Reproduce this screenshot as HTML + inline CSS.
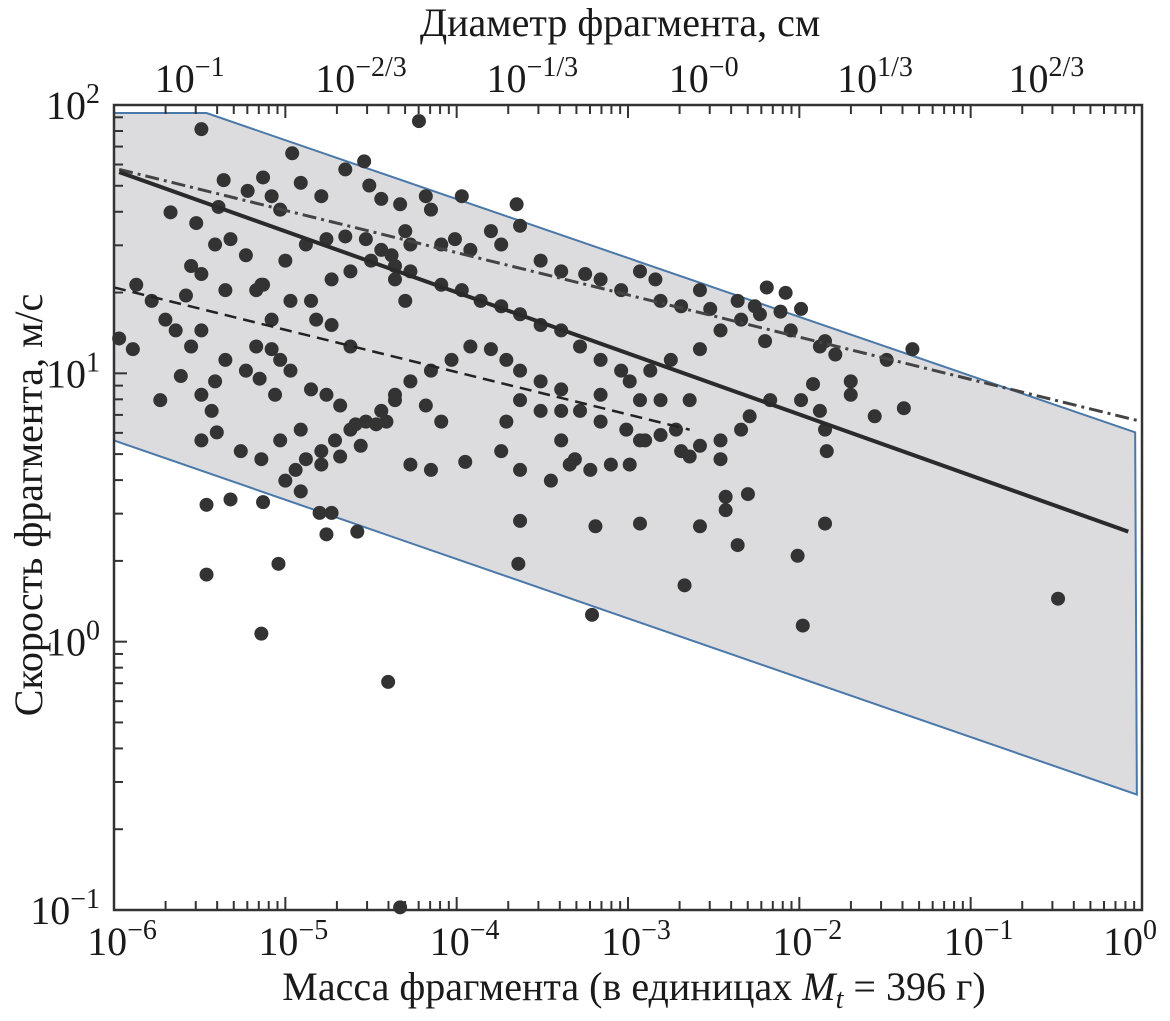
<!DOCTYPE html>
<html><head><meta charset="utf-8">
<style>
html,body{margin:0;padding:0;background:#fff;}
svg text{font-family:"Liberation Serif",serif;fill:#1a1a1a;}
</style></head>
<body>
<svg id="chart" width="1170" height="1016" viewBox="0 0 1170 1016" xmlns="http://www.w3.org/2000/svg"></svg>
<script>
// Data (log10 values), 10 per row
const massLog10 = [
-5.49,-4.22,-3.65,-3.97,-4.54,-4.96,-5.13,-5.36,-5.67,-5.52,
-5.39,-5.22,-5.08,-5.03,-4.91,-4.79,-4.65,-4.51,-4.44,-4.33,
-4.18,-4.15,-4.30,-4.09,-4.01,-3.92,-3.80,-3.74,-3.63,-3.51,
-3.39,-3.25,-3.16,-3.04,-2.93,-2.84,-2.81,-2.69,-2.58,-2.52,
-2.36,-2.26,-2.05,-2.20,-1.85,-1.79,-1.70,-1.92,-1.99,-2.17,
-2.29,-2.34,-2.46,-2.58,-2.69,-2.81,-2.93,-3.01,-3.16,-3.28,
-3.39,-3.51,-3.63,-3.71,-3.80,-3.92,-4.03,-4.15,-4.27,-4.36,
-4.44,-4.53,-4.62,-4.71,-4.79,-4.88,-4.94,-5.00,-4.91,-4.79,
-4.68,-4.56,-4.91,-5.03,-5.14,-5.26,-5.43,-5.49,-5.61,-5.55,
-5.64,-5.70,-5.78,-5.87,-5.89,-5.97,-5.73,-5.41,-5.35,-5.17,
-5.08,-4.97,-4.85,-4.73,-4.62,-4.50,-4.38,-4.27,-5.35,-5.17,
-5.14,-5.00,-4.88,-4.76,-4.65,-4.53,-4.44,-4.36,-4.27,-5.23,
-5.32,-5.41,-5.55,-5.49,-5.58,-5.13,-3.39,-3.31,-3.22,-3.10,
-2.99,-2.90,-2.72,-2.64,-2.46,-2.64,-2.81,-2.93,-3.04,-3.16,
-3.28,-3.39,-3.51,-3.63,-3.74,-3.86,-3.97,-4.09,-3.19,-2.93,
-2.58,-2.43,-2.43,-2.30,-2.36,-3.63,-3.45,-3.34,-3.63,-3.74,
-3.71,-3.63,-3.51,-3.39,-3.16,-2.99,-2.87,-2.75,-2.58,-2.46,
-2.34,-2.23,-2.11,-1.99,-1.88,-1.70,-1.88,-1.85,-1.84,-1.85,
-2.01,-1.98,-2.67,-3.64,-3.21,-2.19,-2.08,-1.34,-0.49,-1.39,
-1.56,-1.49,-5.32,-5.46,-5.13,-5.04,-5.46,-4.76,-4.58,-5.14,
-4.40,-4.33,-4.80,-4.73,-4.27,-4.15,-3.95,-4.09,-4.18,-4.36,
-4.41,-4.47,-4.59,-4.68,-4.76,-4.85,-5.06,-5.15,-5.23,-5.40,
-5.49,-4.62,-4.73,-4.82,-5.08,-5.03,-4.97,-4.36,-4.30,-5.49];
const speedLog10 = [
1.91,1.94,1.63,1.66,1.79,1.82,1.73,1.72,1.60,1.56,
1.62,1.68,1.66,1.61,1.71,1.66,1.76,1.70,1.65,1.63,
1.66,1.61,1.53,1.48,1.50,1.46,1.53,1.48,1.55,1.42,
1.38,1.37,1.35,1.31,1.38,1.35,1.27,1.25,1.31,1.24,
1.27,1.25,1.16,1.12,1.12,1.07,0.97,0.96,0.90,0.90,
0.84,0.79,0.75,0.73,0.71,0.77,0.75,0.79,0.82,0.86,
0.94,0.97,1.01,1.05,1.09,1.10,1.05,1.01,0.97,0.92,
0.86,0.82,0.79,0.75,0.71,0.68,0.64,0.60,0.56,0.66,
0.69,0.73,0.79,0.75,0.68,0.71,0.86,0.92,0.99,1.10,
1.16,1.20,1.27,1.33,1.09,1.13,0.90,0.97,1.05,1.10,
1.20,1.27,1.27,1.35,1.38,1.42,1.44,1.38,1.31,1.31,
1.33,1.42,1.48,1.50,1.51,1.50,1.46,1.40,1.48,1.44,
1.50,1.48,1.40,1.37,1.29,1.33,0.75,0.68,0.64,0.66,
0.66,0.75,0.79,0.69,0.68,0.90,0.90,0.90,1.01,1.05,
1.10,1.16,1.18,1.22,1.25,1.27,1.31,1.33,0.43,0.44,
0.43,0.49,0.54,0.55,0.36,0.45,0.60,0.66,0.64,0.71,
0.82,0.90,0.86,0.86,0.92,0.97,1.01,1.05,1.09,1.16,
1.20,1.22,1.23,1.24,1.10,0.92,0.86,0.79,0.71,0.44,
0.32,0.06,0.21,0.29,0.10,1.32,1.30,1.09,0.16,0.87,
0.84,1.05,0.53,0.51,0.52,0.29,0.25,0.40,0.41,0.03,
-0.15,-0.99,0.48,0.48,0.66,0.64,0.67,0.82,0.88,0.90,
0.82,0.81,0.81,0.88,0.92,0.94,0.92,0.98,1.01,0.78,
0.75,1.10,1.18,1.20,1.09,1.05,1.01,1.35,1.27,1.16];
// Fit lines (log10 endpoints)
const solidFitMass = [-5.97, -0.08];
const solidFitSpeed = [1.75, 0.41];
const dashedFitMass = [-6.0, -2.64];
const dashedFitSpeed = [1.32, 0.79];
const dashDotFitMass = [-5.97, 0.0];
const dashDotFitSpeed = [1.76, 0.82];
// Envelope polygon (log10)
const envelopeMass = [-6.0, -5.46, -0.04, -0.03, -6.0];
const envelopeSpeed = [1.97, 1.97, 0.78, -0.57, 0.75];
// Ticks
const xTickExp = [-6, -5, -4, -3, -2, -1, 0];
const yTickExp = [-1, 0, 1, 2];
const topTickLabels = ["-1", "-2/3", "-1/3", "-0", "1/3", "2/3"];
const topTickExp = [-1, -2/3, -1/3, 0, 1/3, 2/3];

const L = 114, R = 1142, T = 105, B = 910;
const xS = v => L + (v + 6) / 6 * (R - L);
const yS = v => B - (v + 1) / 3 * (B - T);
const dToMass = e => -2.64 + 3 * e;
const NS = "http://www.w3.org/2000/svg";
const svg = document.getElementById('chart');
function mk(tag, attrs, parent) {
  const el = document.createElementNS(NS, tag);
  for (const k in attrs) el.setAttribute(k, attrs[k]);
  (parent || svg).appendChild(el);
  return el;
}

const env = mk('polygon', {points: envelopeMass.map((m,i)=>xS(m)+','+yS(envelopeSpeed[i])).join(' '), fill:'#dcdcdf', stroke:'#4a78a8', 'stroke-width':2});



const pg = mk('g', {});


const n = Math.min(massLog10.length, speedLog10.length);
for (let i = 0; i < n; i++) {
  const c = mk('circle', {cx:xS(massLog10[i]), cy:yS(speedLog10[i]), r:7, fill:'#333'}, pg);
  
  
}

function line(mx, sy, attrs, name) {
  const l = mk('line', Object.assign({x1:xS(mx[0]), y1:yS(sy[0]), x2:xS(mx[1]), y2:yS(sy[1]), fill:'none'}, attrs));
  
  
}
line(dashDotFitMass, dashDotFitSpeed, {stroke:'#444', 'stroke-width':3, 'stroke-dasharray':'14 5 3 5'}, 'dash-dot-fit-line');
line(dashedFitMass, dashedFitSpeed, {stroke:'#222', 'stroke-width':2.5, 'stroke-dasharray':'12 7'}, 'dashed-fit-line');
line(solidFitMass, solidFitSpeed, {stroke:'#2a2a2a', 'stroke-width':4}, 'solid-fit-line');

const fr = mk('rect', {x:L, y:T, width:R-L, height:B-T, fill:'none', stroke:'#333', 'stroke-width':2.5});



const tg = mk('g', {stroke:'#333', 'stroke-width':2});


for (let d = -6; d < 0; d++) for (let k = 1; k < 10; k++) {
  const x = xS(d + Math.log10(k)); const len = k === 1 ? 13 : 9;
  mk('line', {x1:x, y1:B, x2:x, y2:B-len}, tg);
  mk('line', {x1:x, y1:T, x2:x, y2:T+len}, tg);
}
for (let d = -1; d < 2; d++) for (let k = 1; k < 10; k++) {
  const y = yS(d + Math.log10(k)); const len = k === 1 ? 13 : 9;
  mk('line', {x1:L, y1:y, x2:L+len, y2:y}, tg);
}

function sup(base, exp, x, y, anchor, name) {
  const t = mk('text', {x:x, y:y, 'text-anchor':anchor, 'font-size':40});
  
  
  const a = document.createElementNS(NS, 'tspan'); a.textContent = base; t.appendChild(a);
  const b = document.createElementNS(NS, 'tspan'); b.setAttribute('dy', '-16'); b.setAttribute('font-size', '28');
  b.textContent = exp.replace('-', '\u2212'); t.appendChild(b);
}
xTickExp.forEach(e => sup('10', String(e), Math.min(xS(e) + 8, 1130), 955, 'middle', 'x-tick-label'));
yTickExp.forEach(e => sup('10', String(e), 100, yS(e) + 14, 'end', 'y-tick-label'));
topTickExp.forEach((e,i) => sup('10', topTickLabels[i], xS(dToMass(e)) + 14, 92, 'middle', 'top-tick-label'));

const tt = mk('text', {x:620, y:36, 'text-anchor':'middle', 'font-size':40});
tt.textContent = 'Диаметр фрагмента, см';


const xt = mk('text', {x:634, y:1000, 'text-anchor':'middle', 'font-size':40});
xt.innerHTML = 'Масса фрагмента (в единицах <tspan font-style="italic">M</tspan><tspan font-style="italic" font-size="28" dy="8">t</tspan><tspan dy="-8"> = 396 г)</tspan>';


const yt = mk('text', {x:0, y:0, 'text-anchor':'middle', 'font-size':40, transform:'translate(42,505) rotate(-90)'});
yt.textContent = 'Скорость фрагмента, м/с';


</script>
</body></html>
